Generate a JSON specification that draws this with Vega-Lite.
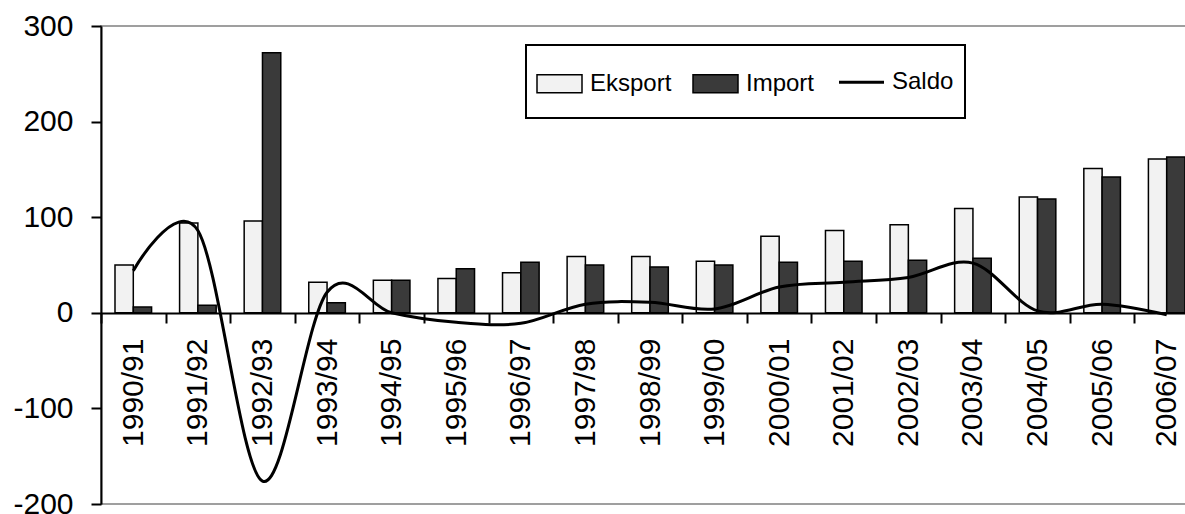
{
  "$schema": "https://vega.github.io/schema/vega-lite/v6.json",
  "autosize": "none",
  "width": 1098,
  "height": 478,
  "padding": {"left": 101, "top": 26, "right": 0, "bottom": 10},
  "background": "white",
  "config": {
    "view": {"stroke": "#808080", "strokeWidth": 1.5},
    "font": "Liberation Sans",
    "axis": {"labelFont": "Liberation Sans", "labelFontSize": 30, "labelColor": "black", "domainColor": "black", "tickColor": "black", "domainWidth": 2, "tickWidth": 2, "grid": false}
  },
  "data": {
    "values": [
      {"year": "1990/91", "Eksport": 50, "Import": 6, "Saldo": 44},
      {"year": "1991/92", "Eksport": 94, "Import": 8, "Saldo": 86},
      {"year": "1992/93", "Eksport": 96, "Import": 272, "Saldo": -176},
      {"year": "1993/94", "Eksport": 32, "Import": 10.5, "Saldo": 21.5},
      {"year": "1994/95", "Eksport": 34, "Import": 34, "Saldo": 0},
      {"year": "1995/96", "Eksport": 36, "Import": 46, "Saldo": -10},
      {"year": "1996/97", "Eksport": 42, "Import": 53, "Saldo": -11},
      {"year": "1997/98", "Eksport": 59, "Import": 50, "Saldo": 9},
      {"year": "1998/99", "Eksport": 59, "Import": 48, "Saldo": 11},
      {"year": "1999/00", "Eksport": 54, "Import": 50, "Saldo": 4},
      {"year": "2000/01", "Eksport": 80, "Import": 53, "Saldo": 27},
      {"year": "2001/02", "Eksport": 86, "Import": 54, "Saldo": 32},
      {"year": "2002/03", "Eksport": 92, "Import": 55, "Saldo": 37},
      {"year": "2003/04", "Eksport": 109, "Import": 57, "Saldo": 52},
      {"year": "2004/05", "Eksport": 121, "Import": 119, "Saldo": 2},
      {"year": "2005/06", "Eksport": 151, "Import": 142, "Saldo": 9},
      {"year": "2006/07", "Eksport": 161, "Import": 163, "Saldo": -2}
    ]
  },
  "layer": [
    {
      "transform": [{"fold": ["Eksport", "Import"], "as": ["series", "value"]}],
      "mark": {"type": "bar", "stroke": "black", "strokeWidth": 1.5},
      "encoding": {
        "x": {
          "field": "year", "type": "nominal", "sort": null,
          "scale": {"paddingInner": 0, "paddingOuter": 0},
          "axis": {
            "title": null, "labelAngle": -90, "tickBand": "extent", "tickSize": 10,
            "labelPadding": 15, "offset": -191, "zindex": 1,
            "encode": {"ticks": {"update": {"y": {"value": -10}}}}
          }
        },
        "xOffset": {"field": "series", "sort": ["Eksport", "Import"], "scale": {"paddingInner": 0, "paddingOuter": 0.765}},
        "y": {
          "field": "value", "type": "quantitative",
          "scale": {"domain": [-200, 300], "nice": false, "zero": false},
          "axis": {
            "title": null, "values": [-200, -100, 0, 100, 200, 300], "tickSize": 10,
            "labelPadding": 18, "zindex": 1,
            "labelExpr": "'' + datum.value",
            "encode": {"ticks": {"update": {"x": {"value": 11}}}}
          }
        },
        "color": {
          "field": "series", "type": "nominal",
          "scale": {"domain": ["Eksport", "Import", "Saldo"], "range": ["#f2f2f2", "#3a3a3a", "black"]},
          "legend": {
            "orient": "none", "legendX": 425, "legendY": 19, "direction": "horizontal", "columns": 3,
            "gridAlign": "each",
            "title": null,
            "labelFont": "Liberation Sans",
            "labelFontSize": 24, "labelColor": "black", "labelOffset": 8, "columnPadding": 18,
            "padding": 11, "strokeColor": "black", "fillColor": "white",
            "symbolSize": 2025, "symbolType": "M-1,-0.4H1V0.4H-1Z", "symbolStrokeWidth": 1.5, "symbolStrokeColor": "black",
            "encode": {
              "symbols": {"update": {
                "x": {"value": 22.5},
                "y": {"value": 26},
                "shape": {"signal": "datum.value === 'Saldo' ? 'M0,-0.83M-1,0H1M0,0.83' : 'M0,-0.83M-1,-0.4H1V0.4H-1ZM0,0.83'"},
                "fill": {"signal": "datum.value === 'Eksport' ? '#f2f2f2' : datum.value === 'Import' ? '#3a3a3a' : 'transparent'"},
                "stroke": {"value": "black"},
                "strokeWidth": {"signal": "datum.value === 'Saldo' ? 3 : 1.5"},
                "opacity": {"value": 1}
              }},
              "labels": {"update": {
                "x": {"value": 53},
                "y": {"value": 26}
              }},
              "legend": {"update": {"strokeWidth": {"value": 2}}}
            }
          }
        }
      }
    },
    {
      "mark": {"type": "line", "interpolate": "cardinal", "tension": 0, "strokeWidth": 3, "stroke": "black"},
      "encoding": {
        "x": {"field": "year", "type": "nominal", "sort": null},
        "y": {"field": "Saldo", "type": "quantitative", "axis": {"title": null}}
      }
    }
  ]
}
